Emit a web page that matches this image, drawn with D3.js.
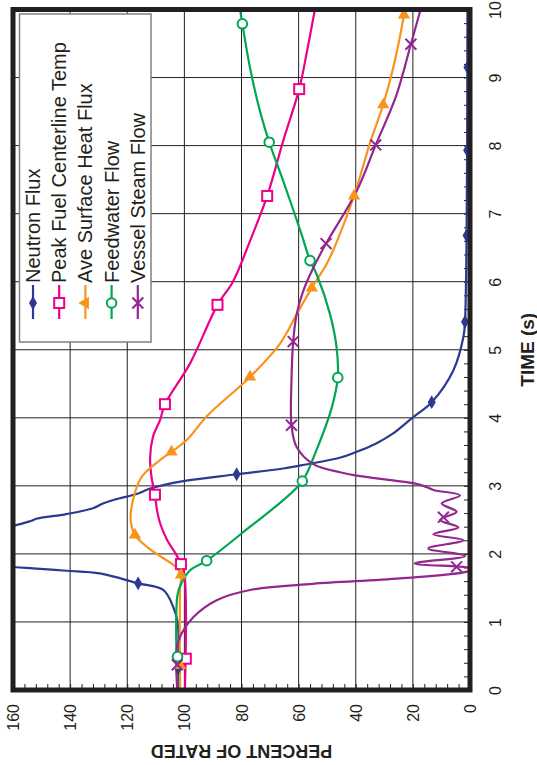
<!DOCTYPE html>
<html>
<head>
<meta charset="utf-8">
<script src="https://cdn.jsdelivr.net/npm/d3@7"></script>
<style>
  body { margin: 0; background: #fff; }
  text { font-family: "Liberation Sans", Arial, sans-serif; fill: #231f20; }
</style>
</head>
<body>
<svg id="chart" width="537" height="765"></svg>
<script>
// data: [time (s), percent of rated]
var timeTicks = [0, 1, 2, 3, 4, 5, 6, 7, 8, 9, 10];
var percentTicks = [0, 20, 40, 60, 80, 100, 120, 140, 160];
var seriesNames = ["Neutron Flux", "Peak Fuel Centerline Temp", "Ave Surface Heat Flux",
    "Feedwater Flow", "Vessel Steam Flow"];

var neutronFlux = [[0, 102.2], [1.0, 102.4], [1.22, 103.9], [1.47, 107.4], [1.567, 116.2],
    [1.713, 129.6], [1.752, 141.3], [1.787, 153], [1.81, 161], [1.86, 185], [2.34, 185],
    [2.4, 161.7], [2.48, 154], [2.52, 151.5], [2.585, 141.3], [2.67, 132], [2.74, 128.5],
    [2.8, 124.3], [2.88, 116.7], [2.96, 112], [3.07, 100.4], [3.17, 81.7], [3.255, 65.4],
    [3.31, 58], [3.42, 45], [3.5, 39.7], [3.62, 33], [3.77, 26.9], [4.01, 19.9],
    [4.23, 13.4], [4.7, 5.8], [5.19, 2.3], [5.41, 1.75], [6.0, 1.4], [6.68, 1.2],
    [8.0, 1.0], [10, 0.9]];
var fuelTemp = [[0, 99.8], [1.7, 100], [1.85, 101.2], [2.0, 103], [2.2, 106], [2.45, 108.5],
    [2.65, 109.6], [2.87, 110.3], [3.13, 111.5], [3.42, 112], [3.72, 111], [3.97, 108.5],
    [4.2, 106.8], [4.8, 98], [5.66, 88.4], [6.0, 83], [6.6, 77], [7.26, 71], [8.07, 65.4],
    [8.83, 59.8], [9.4, 57], [10, 54.3]];
var heatFlux = [[0, 101.5], [1.5, 101.5], [1.69, 101.2], [1.81, 103], [1.94, 107.5],
    [2.1, 113], [2.28, 117.3], [2.5, 118.8], [2.79, 118], [3.13, 115], [3.38, 108.5],
    [3.5, 104.5], [3.68, 99], [4.03, 92], [4.6, 77], [5.09, 66.5], [5.52, 60.7], [5.91, 55.4],
    [6.26, 50.2], [6.6, 46.5], [7.26, 40.6], [8.04, 35], [8.6, 30.4], [9.14, 26.9],
    [9.92, 23.1], [10, 22.8]];
var feedwater = [[0, 102.4], [1.4, 102.4], [1.57, 101], [1.76, 98], [1.9, 92.2], [2.4, 77],
    [2.79, 65.4], [3.07, 58.7], [3.5, 54], [4.15, 48.4], [4.59, 46.3], [5.03, 46.7],
    [5.52, 49], [6.11, 53.7], [6.31, 56], [6.7, 59], [7.48, 65.4], [8.05, 70.3], [8.5, 73.5],
    [9.14, 77], [9.79, 79.7], [10, 80.5]];
var steamFlow = [[0, 102.5], [0.63, 102.6], [0.83, 101], [1.07, 96.9], [1.32, 88.7],
    [1.47, 77], [1.56, 55], [1.64, 24.5], [1.74, 1], [1.785, -1], [1.86, 19.3], [1.97, 1.75],
    [2.08, 14.6], [2.2, 2.3], [2.29, 12.8], [2.39, 4.1], [2.5, 10.5], [2.62, 4.7],
    [2.74, 9.9], [2.86, 3.5], [2.94, 12.8], [3.0, 16.3], [3.04, 19.9], [3.08, 26.9],
    [3.15, 39.7], [3.2, 45.5], [3.32, 54.9], [3.57, 60.7], [3.89, 62.5], [4.55, 62.5],
    [5.12, 61.9], [5.52, 60.7], [5.86, 58.4], [6.2, 54.9], [6.56, 50.4], [7.33, 39.7],
    [8.01, 33], [8.75, 25.7], [9.49, 20.7], [10, 17.3]];

// marker points
var neutronMarks = [[0.32, 102.2], [1.567, 116.2], [3.17, 81.7], [4.23, 13.4], [5.41, 1.75],
    [6.68, 1.2], [7.93, 1.0], [9.15, 0.9]];
var fuelMarks = [[0.46, 99.5], [1.85, 101.2], [2.87, 110.3], [4.2, 106.8], [5.66, 88.4],
    [7.26, 71], [8.83, 59.8]];
var heatMarks = [[0.36, 101.5], [1.69, 101.2], [2.28, 117.3], [3.5, 104.5], [4.6, 77],
    [5.91, 55.4], [7.26, 40.6], [8.6, 30.4], [9.92, 23.1]];
var feedMarks = [[0.49, 102.4], [1.9, 92.2], [3.07, 58.7], [4.59, 46.3], [6.31, 56],
    [8.05, 70.3], [9.79, 79.7]];
var steamMarks = [[0.37, 102.5], [1.81, 4.7], [2.54, 9.3], [3.89, 62.5], [5.12, 61.9],
    [6.56, 50.4], [8.01, 33], [9.49, 20.7]];

var colors = ["#2b3990", "#ec008c", "#f7941d", "#00a651", "#92278f"];
var symbols = ["diamond", "square", "triangle", "circle", "times"];
var allSeries = [neutronFlux, fuelTemp, heatFlux, feedwater, steamFlow];
var allMarks = [neutronMarks, fuelMarks, heatMarks, feedMarks, steamMarks];

// layout (chart is drawn turned on its side)
var plotLeft = 13, plotRight = 470, plotTop = 9.5, plotBottom = 690;
var svg = d3.select("#chart");

var xP = d3.scaleLinear().domain([0, 160]).range([plotRight, plotLeft]);   // percent -> screen x
var yT = d3.scaleLinear().domain([0, 10]).range([plotBottom, plotTop]);    // time -> screen y

// grid
svg.append("g").selectAll("line").data(percentTicks).join("line")
    .attr("x1", d => xP(d)).attr("x2", d => xP(d))
    .attr("y1", plotTop).attr("y2", plotBottom)
    .attr("stroke", "#231f20").attr("stroke-width", 1);
svg.append("g").selectAll("line").data(timeTicks).join("line")
    .attr("y1", d => yT(d)).attr("y2", d => yT(d))
    .attr("x1", plotLeft).attr("x2", plotRight)
    .attr("stroke", "#231f20").attr("stroke-width", 1);

// minor ticks inside the frame
var minorP = svg.append("g").attr("transform", "translate(0," + plotBottom + ")")
    .call(d3.axisTop(xP).tickValues(d3.range(0, 161, 4)).tickSize(6).tickFormat(""));
var minorT = svg.append("g").attr("transform", "translate(" + plotRight + ",0)")
    .call(d3.axisLeft(yT).tickValues(d3.range(0, 50).map(i => i * 0.2)).tickSize(6).tickFormat(""));
[minorP, minorT].forEach(g => {
    g.select(".domain").remove();
    g.selectAll("line").attr("stroke", "#231f20").attr("stroke-width", 1);
});

// tick labels
var pAxis = svg.append("g").attr("transform", "translate(0," + plotBottom + ")")
    .call(d3.axisBottom(xP).tickValues(percentTicks).tickSize(0));
pAxis.select(".domain").remove();
pAxis.selectAll("text")
    .attr("x", 0).attr("y", 0).attr("dy", "0.35em")
    .attr("transform", "translate(0,14) rotate(-90)")
    .attr("text-anchor", "end")
    .attr("font-size", 16).attr("font-family", null).attr("fill", "#231f20");

var tAxis = svg.append("g").attr("transform", "translate(" + plotRight + ",0)")
    .call(d3.axisRight(yT).tickValues(timeTicks).tickSize(0));
tAxis.select(".domain").remove();
tAxis.selectAll("text")
    .attr("x", 0).attr("y", 0).attr("dy", "0.35em")
    .attr("transform", "translate(25,0) rotate(-90)")
    .attr("text-anchor", "middle")
    .attr("font-size", 16).attr("font-family", null).attr("fill", "#231f20");

// axis titles
svg.append("text")
    .attr("transform", "translate(" + (plotLeft + plotRight) / 2 + ",751) rotate(180)")
    .attr("dy", "0.35em").attr("text-anchor", "middle")
    .attr("font-size", 18).attr("font-weight", "bold")
    .text("PERCENT OF RATED");
svg.append("text")
    .attr("transform", "translate(527," + (plotTop + plotBottom) / 2 + ") rotate(-90)")
    .attr("dy", "0.35em").attr("text-anchor", "middle")
    .attr("font-size", 19).attr("font-weight", "bold")
    .text("TIME (s)");

// curves
svg.append("clipPath").attr("id", "plotClip").append("rect")
    .attr("x", plotLeft).attr("y", plotTop)
    .attr("width", plotRight - plotLeft).attr("height", plotBottom - plotTop);

var line = d3.line()
    .x(d => xP(d[1]))
    .y(d => yT(d[0]))
    .curve(d3.curveCatmullRom.alpha(0.5));

var plot = svg.append("g").attr("clip-path", "url(#plotClip)");
plot.selectAll("path.series").data(allSeries).join("path")
    .attr("class", "series")
    .attr("d", line)
    .attr("fill", "none")
    .attr("stroke", (d, i) => colors[i])
    .attr("stroke-width", 2.2);

// markers
function drawMarker(g, kind, color, rot) {
    if (kind === "diamond") {
        g.append("path").attr("d", d3.symbol(d3.symbolDiamond, 56)())
            .attr("fill", color);
    } else if (kind === "square") {
        g.append("rect").attr("x", -5).attr("y", -5).attr("width", 10).attr("height", 10)
            .attr("fill", "#fff").attr("stroke", color).attr("stroke-width", 2);
    } else if (kind === "triangle") {
        g.append("path").attr("d", d3.symbol(d3.symbolTriangle, 66)())
            .attr("transform", "rotate(" + rot + ")")
            .attr("fill", color);
    } else if (kind === "circle") {
        g.append("circle").attr("r", 4.8)
            .attr("fill", "#fff").attr("stroke", color).attr("stroke-width", 2);
    } else {
        g.append("path").attr("d", d3.symbol(d3.symbolTimes, 80)())
            .attr("fill", "none").attr("stroke", color).attr("stroke-width", 2);
    }
}

allMarks.forEach(function (marks, i) {
    plot.append("g").selectAll("g").data(marks).join("g")
        .attr("transform", d => "translate(" + xP(d[1]) + "," + yT(d[0]) + ")")
        .each(function () { drawMarker(d3.select(this), symbols[i], colors[i], 0); });
});

// frame
svg.append("rect")
    .attr("x", plotLeft).attr("y", plotTop)
    .attr("width", plotRight - plotLeft).attr("height", plotBottom - plotTop)
    .attr("fill", "none").attr("stroke", "#231f20").attr("stroke-width", 5);

// legend
var legend = svg.append("g");
legend.append("rect")
    .attr("x", 19.5).attr("y", 14).attr("width", 131.5).attr("height", 328)
    .attr("fill", "#fff").attr("stroke", "#808080").attr("stroke-width", 1.5);
var entry = legend.selectAll("g.entry").data(seriesNames).join("g")
    .attr("class", "entry")
    .attr("transform", (d, i) => "translate(" + (33 + i * 26.2) + ",0)");
entry.append("line")
    .attr("y1", 285).attr("y2", 319)
    .attr("stroke", (d, i) => colors[i]).attr("stroke-width", 2.2);
entry.append("g").attr("transform", "translate(0,303)")
    .each(function (d, i) { drawMarker(d3.select(this), symbols[i], colors[i], -90); });
entry.append("text")
    .attr("transform", "translate(0,283) rotate(-90)")
    .attr("dy", "0.35em")
    .attr("font-size", 20)
    .text(d => d);
</script>
</body>
</html>
